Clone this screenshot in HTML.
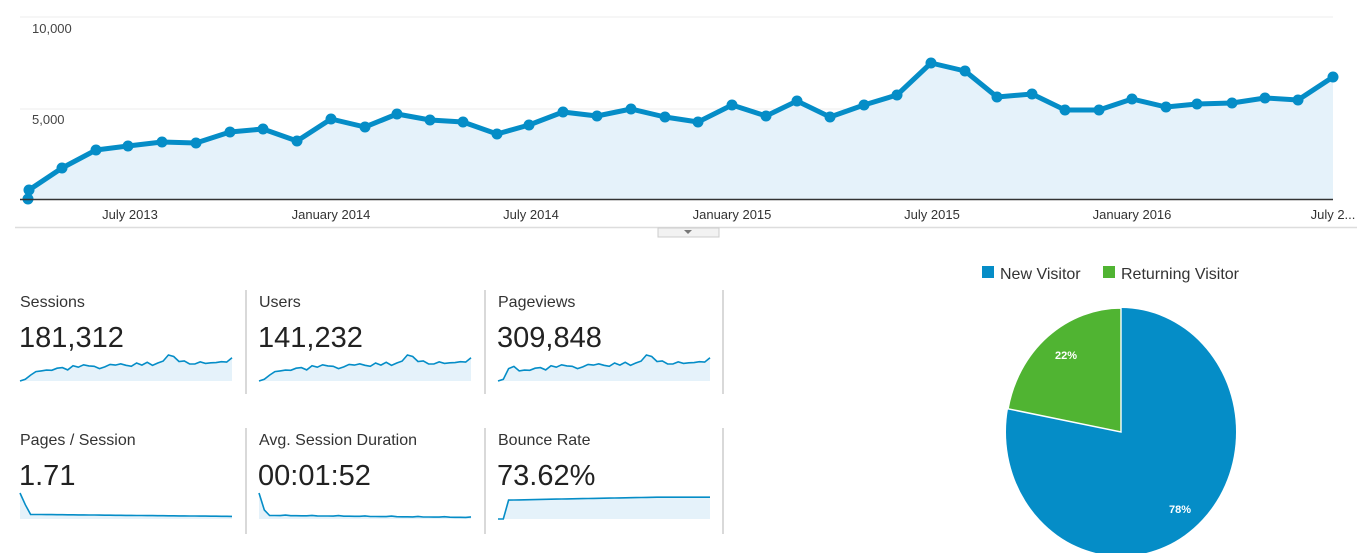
<!DOCTYPE html>
<html><head><meta charset="utf-8"><style>
html,body{margin:0;padding:0;background:#fff;}
svg{display:block;font-family:"Liberation Sans",Arial,sans-serif;}
</style></head><body>
<svg id="s" width="1365" height="553" viewBox="0 0 1365 553" xmlns="http://www.w3.org/2000/svg">
<line x1="20" y1="17" x2="1333" y2="17" stroke="#eee" stroke-width="1"/>
<line x1="20" y1="109" x2="1333" y2="109" stroke="#eee" stroke-width="1"/>
<text x="32" y="33" font-size="13" fill="#444">10,000</text>
<text x="32" y="124" font-size="13" fill="#444">5,000</text>
<g id="main"></g>
<line x1="20" y1="199.5" x2="1333" y2="199.5" stroke="#333" stroke-width="1.5"/>
<g font-size="13" fill="#333" text-anchor="middle">
<text x="130" y="219">July 2013</text>
<text x="331" y="219">January 2014</text>
<text x="531" y="219">July 2014</text>
<text x="732" y="219">January 2015</text>
<text x="932" y="219">July 2015</text>
<text x="1132" y="219">January 2016</text>
<text x="1333" y="219">July 2...</text>
</g>
<line x1="15" y1="227.5" x2="1357" y2="227.5" stroke="#ddd" stroke-width="1.5"/>
<rect x="658" y="228" width="61" height="9" fill="#f2f2f2" stroke="#ccc"/>
<path d="M684 230 L692 230 L688 234Z" fill="#777"/>
<g stroke="#ccc" stroke-width="1.5">
<line x1="246" y1="290" x2="246" y2="394"/><line x1="485" y1="290" x2="485" y2="394"/><line x1="723" y1="290" x2="723" y2="394"/>
<line x1="246" y1="428" x2="246" y2="534"/><line x1="485" y1="428" x2="485" y2="534"/><line x1="723" y1="428" x2="723" y2="534"/>
</g>
<g font-size="16" fill="#333">
<text x="20" y="307">Sessions</text><text x="259" y="307">Users</text><text x="498" y="307">Pageviews</text>
<text x="20" y="445">Pages / Session</text><text x="259" y="445">Avg. Session Duration</text><text x="498" y="445">Bounce Rate</text>
</g>
<g font-size="29" fill="#222">
<text x="19" y="347">181,312</text><text x="258" y="347">141,232</text><text x="497" y="347">309,848</text>
<text x="19" y="485">1.71</text><text x="258" y="485">00:01:52</text><text x="497" y="485">73.62%</text>
</g>
<g id="sparks"></g>
<rect x="982" y="266" width="12" height="12" fill="#058dc7"/>
<text x="1000" y="279" font-size="16" fill="#333">New Visitor</text>
<rect x="1103" y="266" width="12" height="12" fill="#50b432"/>
<text x="1121" y="279" font-size="16" fill="#333">Returning Visitor</text>
<g transform="translate(1121,432) scale(115,124)">
<ellipse cx="0" cy="0" rx="1" ry="1" fill="#058dc7"/>
<path d="M0 0 L0 -1 A1 1 0 0 0 -0.982 -0.187 Z" fill="#50b432" stroke="#fff" stroke-width="0.012"/>
</g>
<text x="1066" y="359" font-size="11" font-weight="bold" fill="#fff" text-anchor="middle">22%</text>
<text x="1180" y="513" font-size="11" font-weight="bold" fill="#fff" text-anchor="middle">78%</text>
</svg>
<script>
var P=[[28,199],[29,190],[62,168],[96,150],[128,146],[162,142],[196,143],[230,132],[263,129],[297,141],[331,119],[365,127],[397,114],[430,120],[463,122],[497,134],[529,125],[563,112],[597,116],[631,109],[665,117],[698,122],[732,105],[766,116],[797,101],[830,117],[864,105],[897,95],[931,63],[965,71],[997,97],[1032,94],[1065,110],[1099,110],[1132,99],[1166,107],[1197,104],[1232,103],[1265,98],[1298,100],[1333,77]];
var NS="http://www.w3.org/2000/svg";
function el(t,a,p){var e=document.createElementNS(NS,t);for(var k in a)e.setAttribute(k,a[k]);p.appendChild(e);return e;}
var m=document.getElementById("main");
var pts=P.map(function(p){return p.join(",")}).join(" ");
el("polygon",{points:"28,199 "+pts+" 1333,199",fill:"#e5f2fa"},m);
el("polyline",{points:pts,fill:"none",stroke:"#058dc7","stroke-width":5,"stroke-linejoin":"round"},m);
P.forEach(function(p){el("circle",{cx:p[0],cy:p[1],r:5.5,fill:"#058dc7"},m);});
var s=document.getElementById("sparks");
function spark(x0,x1,yb,yt,vals){
 var n=vals.length,a=[];for(var i=0;i<n;i++){a.push((x0+(x1-x0)*i/(n-1)).toFixed(1)+","+(yb-(yb-yt)*vals[i]).toFixed(1));}
 el("polygon",{points:x0+","+yb+" "+a.join(" ")+" "+x1+","+yb,fill:"#e5f2fa"},s);
 el("polyline",{points:a.join(" "),fill:"none",stroke:"#058dc7","stroke-width":1.6},s);
}
var v=P.map(function(p){return (199-p[1])/136;});
var v2=v.slice();v2[2]=v[2]+0.25;v2[3]=v[3]+0.2;
var flat=[],flat2=[],br=[];
for(var i=0;i<41;i++){flat.push(i==0?1:(i==1?0.55:0.18-i*0.002));flat2.push(i==0?1:(i==1?0.35:0.14-i*0.002+ (i%5==0?0.02:0)));br.push(i<2?0:0.72+Math.min(i,30)*0.004);}
spark(20,232,381,355,v);
spark(259,471,381,355,v);
spark(498,710,381,355,v2);
spark(20,232,519,493,flat);
spark(259,471,519,493,flat2);
spark(498,710,519,493,br);
</script>
</body></html>
